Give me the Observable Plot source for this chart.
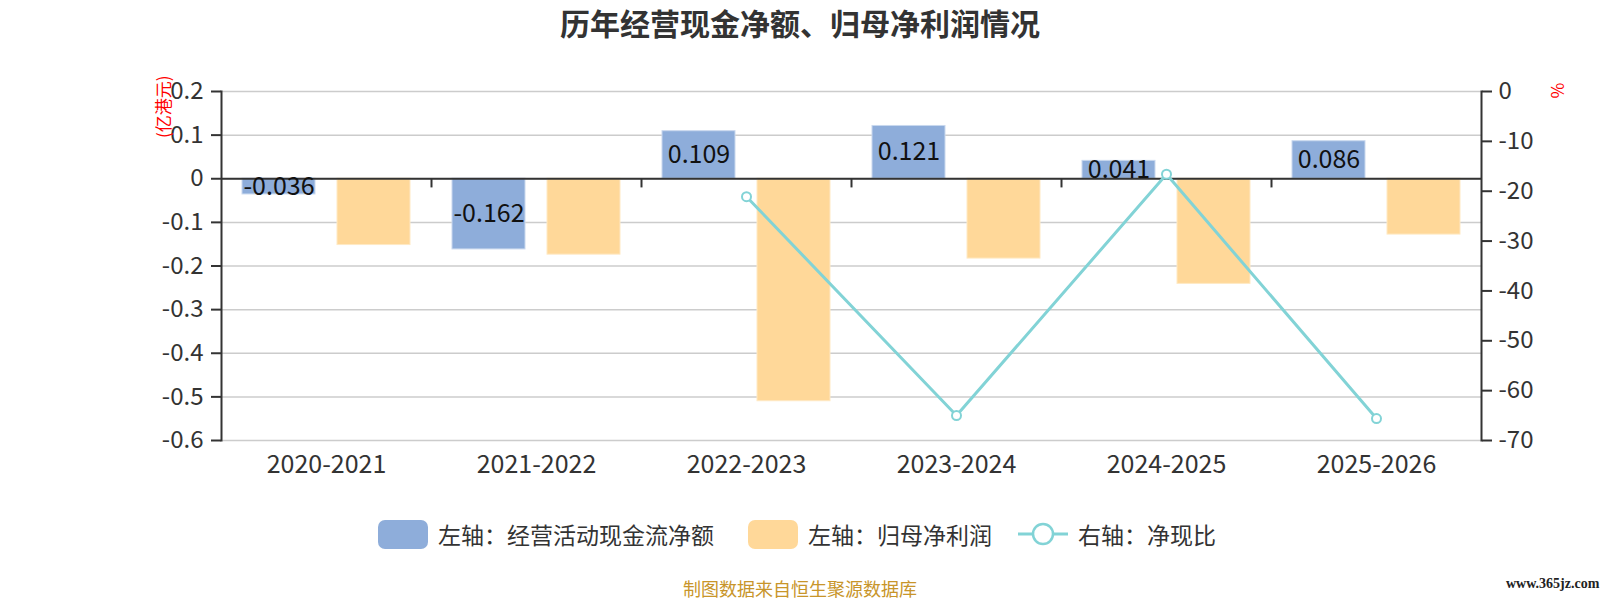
<!DOCTYPE html>
<html>
<head>
<meta charset="utf-8">
<script src="https://cdn.jsdelivr.net/npm/d3@7"></script>
<script src="https://cdn.jsdelivr.net/npm/@observablehq/plot@0.6"></script>
<style>
  body { margin: 0; background: #fff; }
  #wrap { position: relative; width: 1600px; height: 600px; font-family: "Noto Sans CJK SC", "Noto Sans", sans-serif; color: #333; }
  #title { position: absolute; left: 0; width: 1600px; top: 2px; text-align: center; font-size: 30px; font-weight: bold; color: #333; line-height: 40px; }
  #legend { position: absolute; top: 518px; left: 0; width: 1600px; height: 32px; }
  .li { position: absolute; top: 0; height: 32px; display: flex; align-items: center; font-size: 23px; color: #333; white-space: nowrap; }
  .sw { width: 50px; height: 29px; border-radius: 7px; margin-right: 10px; }
  #caption { position: absolute; top: 576px; left: 0; width: 1600px; text-align: center; font-size: 18px; color: #c8952a; line-height: 24px; }
  #wm { position: absolute; top: 576px; left: 1506px; font-size: 14px; font-weight: bold; color: #222; font-family: "Liberation Serif", serif; }
  #chart { position: absolute; left: 0; top: 0; }
</style>
</head>
<body>
<div id="wrap">
  <div id="chart"></div>
  <div id="title">历年经营现金净额、归母净利润情况</div>
  <div id="legend"></div>
  <div id="caption">制图数据来自恒生聚源数据库</div>
  <div id="wm">www.365jz.com</div>
</div>
<script>
const categories = ["2020-2021", "2021-2022", "2022-2023", "2023-2024", "2024-2025", "2025-2026"];
const cashFlow = [-0.036, -0.162, 0.109, 0.121, 0.041, 0.086];
const netProfit = [-0.152, -0.174, -0.510, -0.183, -0.241, -0.128];
const cashRatio = [null, null, -21.1, -65.0, -16.6, -65.6];
const leftTicks = [0.2, 0.1, 0, -0.1, -0.2, -0.3, -0.4, -0.5, -0.6];
const rightTicks = [0, -10, -20, -30, -40, -50, -60, -70];
const seriesNames = ["左轴：经营活动现金流净额", "左轴：归母净利润", "右轴：净现比"];
const colors = ["#8eadda", "#ffd899", "#82d3d6"];

const leftDomain = [-0.6, 0.2];
const rightDomain = [-70, 0];
const toLeft = r => leftDomain[0] + (r - rightDomain[0]) * (leftDomain[1] - leftDomain[0]) / (rightDomain[1] - rightDomain[0]);

const rows = categories.map((c, i) => ({cat: c, cash: cashFlow[i], profit: netProfit[i], ratio: cashRatio[i]}));
const lineRows = rows.filter(d => d.ratio != null);

const fmt1 = d => { const v = +d.toFixed(1); return v === 0 ? "0" : String(v); };

const plot = Plot.plot({
  width: 1600,
  height: 600,
  marginLeft: 221,
  marginRight: 119,
  marginTop: 91,
  marginBottom: 160,
  style: {fontFamily: "'Noto Sans CJK SC', 'Noto Sans', sans-serif", background: "transparent"},
  x: {domain: categories, type: "band", padding: 0, label: null},
  y: {domain: leftDomain, label: null},
  marks: [
    Plot.gridY(leftTicks, {stroke: "#cccccc", strokeOpacity: 1, strokeWidth: 1.5}),
    Plot.barY(rows, {x: "cat", y: "cash", fill: colors[0], stroke: "#c9d8ee", strokeWidth: 1, insetLeft: 21, insetRight: 116}),
    Plot.barY(rows, {x: "cat", y: "profit", fill: colors[1], stroke: "#ffe9c4", strokeWidth: 1, insetLeft: 116, insetRight: 21}),
    Plot.ruleY([0], {stroke: "#333", strokeWidth: 2}),
    Plot.ruleX(categories.slice(1), {x: d => d, dx: -105, y1: 0, y2: -0.021, stroke: "#333", strokeWidth: 2}),
    Plot.text(rows, {x: "cat", y: d => d.cash / 2, text: d => d.cash.toFixed(3), dx: -47.5, fontSize: 25, fill: "#111"}),
    Plot.line(lineRows, {x: "cat", y: d => toLeft(d.ratio), stroke: colors[2], strokeWidth: 3}),
    Plot.dot(lineRows, {x: "cat", y: d => toLeft(d.ratio), r: 4.5, fill: "#fff", stroke: colors[2], strokeWidth: 2}),
    Plot.axisY(leftTicks, {anchor: "left", tickFormat: fmt1, tickSize: 10, tickPadding: 8, fontSize: 24, stroke: "#333", strokeWidth: 2, color: "#333", label: null}),
    Plot.axisY(rightTicks.map(toLeft), {anchor: "right", tickFormat: (d, i) => String(rightTicks[i]), tickSize: 10, tickPadding: 7, fontSize: 24, stroke: "#333", strokeWidth: 2, color: "#333", label: null}),
    Plot.frame({anchor: "left", stroke: "#333", strokeWidth: 2}),
    Plot.frame({anchor: "right", stroke: "#333", strokeWidth: 2}),
    Plot.axisX({anchor: "bottom", tickSize: 0, tickPadding: 15, fontSize: 25, color: "#333", label: null}),
    Plot.text(["(亿港元)"], {frameAnchor: "top-left", dx: -64, dy: -16, rotate: -90, fill: "red", fontSize: 17, textAnchor: "end"}),
    Plot.text(["%"], {frameAnchor: "top-right", dx: 82, dy: 7, rotate: 90, fill: "red", fontSize: 17})
  ]
});
document.getElementById("chart").appendChild(plot);

// legend
const legend = document.getElementById("legend");
const lefts = [378, 748, 1018];
seriesNames.forEach((name, i) => {
  const item = document.createElement("div");
  item.className = "li";
  item.style.left = lefts[i] + "px";
  if (i < 2) {
    const sw = document.createElement("div");
    sw.className = "sw";
    sw.style.background = colors[i];
    item.appendChild(sw);
  } else {
    const s = d3.create("svg").attr("width", 50).attr("height", 32).style("margin-right", "10px");
    s.append("line").attr("x1", 0).attr("x2", 50).attr("y1", 16).attr("y2", 16).attr("stroke", colors[2]).attr("stroke-width", 3);
    s.append("circle").attr("cx", 25).attr("cy", 16).attr("r", 10).attr("fill", "#fff").attr("stroke", colors[2]).attr("stroke-width", 2.5);
    item.appendChild(s.node());
  }
  const t = document.createElement("span");
  t.textContent = name;
  item.appendChild(t);
  legend.appendChild(item);
});
</script>
</body>
</html>
